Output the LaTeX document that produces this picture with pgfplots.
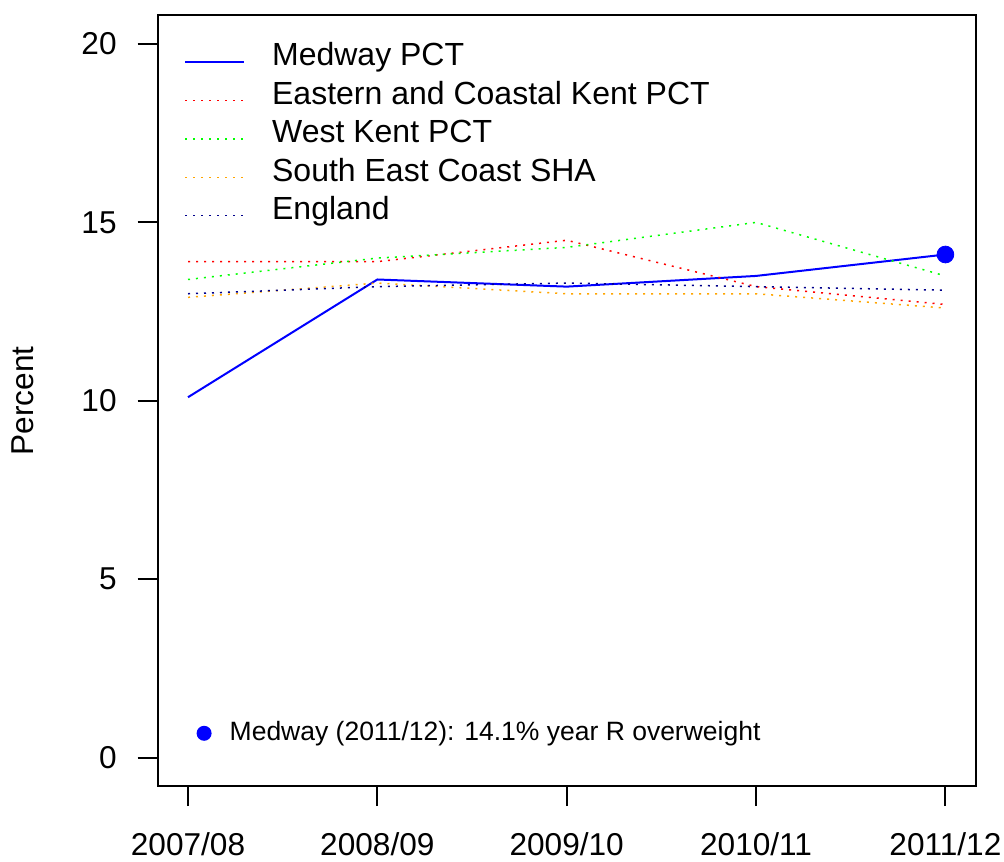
\documentclass[border=0pt]{standalone}
\usepackage{pgfplots}
\pgfplotsset{compat=1.18}
\usepackage{fontspec}
\setmainfont{Liberation Sans}
\definecolor{rblue}{RGB}{0,0,255}
\definecolor{rred}{RGB}{255,0,0}
\definecolor{rgreen}{RGB}{0,255,0}
\definecolor{rorange}{RGB}{255,165,0}
\definecolor{rnavy}{RGB}{0,0,139}
\begin{document}
\begin{tikzpicture}
\useasboundingbox (-78.85pt,-37.5pt) rectangle (423.1pt,393pt);
\begin{axis}[
    at={(0pt,0pt)}, anchor=south west,
    scale only axis,
    width=408.95pt, height=385.25pt,
    xmin=0.84, xmax=5.16, ymin=-0.8, ymax=20.8,
    clip=false,
    axis line style={line width=1pt},
    xtick={1,2,3,4,5},
    xticklabels={2007/08,2008/09,2009/10,2010/11,2011/12},
    ytick={0,5,10,15,20},
    xtick pos=bottom, ytick pos=left,
    tick align=outside,
    major tick length=10pt,
    every tick/.style={black, line width=1pt},
    tick label style={font=\fontsize{15.8pt}{19pt}\selectfont},
    /pgf/number format/assume math mode=true,
    yticklabel style={xshift=-7pt},
    xticklabel style={yshift=-9.5pt},
    ylabel={Percent},
    every axis y label/.style={at={(rel axis cs:0,0.5)}, xshift=-67.5pt, rotate=90, anchor=center, font=\fontsize{15.8pt}{19pt}\selectfont},
    legend image code/.code={\draw[#1] (0pt,0pt) -- (29.5pt,0pt);},
    legend cell align=left,
    legend style={at={(rel axis cs:0,1)}, anchor=north west, xshift=10pt, yshift=-11.5pt,
        draw=none, fill=none, font=\fontsize{16pt}{19pt}\selectfont,
        nodes={inner ysep=0pt, text height=11.5pt, text depth=7.7pt},
        column sep=11.5pt},
]
\addplot[rblue, line width=1pt] coordinates {(1,10.1) (2,13.4) (3,13.2) (4,13.5) (5,14.1)};
\addplot[rred, line width=0.75pt, dash pattern=on 1pt off 3pt] coordinates {(1,13.9) (2,13.9) (3,14.5) (4,13.2) (5,12.7)};
\addplot[rgreen, line width=0.75pt, dash pattern=on 1pt off 3pt] coordinates {(1,13.4) (2,14.0) (3,14.3) (4,15.0) (5,13.5)};
\addplot[rorange, line width=0.75pt, dash pattern=on 1pt off 3pt] coordinates {(1,12.9) (2,13.3) (3,13.0) (4,13.0) (5,12.6)};
\addplot[rnavy, line width=0.75pt, dash pattern=on 1pt off 3pt] coordinates {(1,13.0) (2,13.2) (3,13.3) (4,13.2) (5,13.1)};
\legend{Medway PCT,Eastern and Coastal Kent PCT,West Kent PCT,South East Coast SHA,England}
\addplot[rblue, only marks, mark=*, mark size=4.2pt, forget plot] coordinates {(5,14.1)};
\node[circle, fill=rblue, inner sep=0pt, minimum size=7.5pt] at (axis cs:1.085,0.68) {};
\node[anchor=west, inner sep=0pt, font=\fontsize{13.25pt}{16pt}\selectfont] at (axis cs:1.218,0.68)
  {Medway (2011/12): 14.1\% year R overweight};
\end{axis}
\end{tikzpicture}
\end{document}
